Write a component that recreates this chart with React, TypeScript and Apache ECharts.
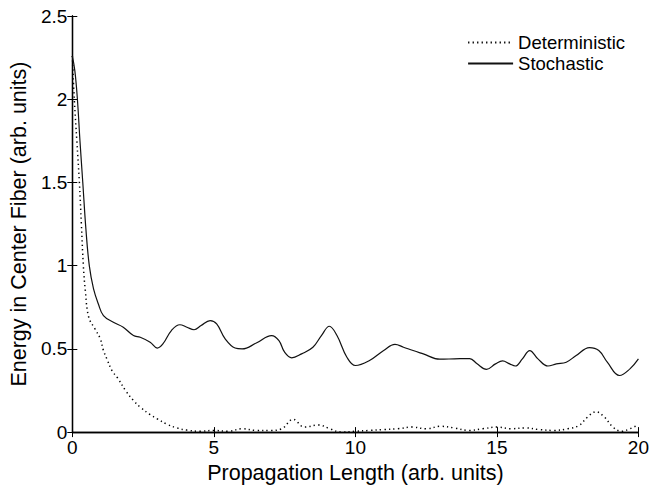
import React, { useEffect, useRef } from "react";
import * as echarts from "echarts";

const stochasticX = [0, 0.09, 0.18, 0.27, 0.37, 0.48, 0.6, 0.75, 0.92, 1.1, 1.45, 1.8, 2.16, 2.4, 2.75, 3.0, 3.2, 3.5, 3.8, 4.05, 4.3, 4.55, 4.87, 5.1, 5.4, 5.75, 6.0, 6.5, 7.04, 7.3, 7.5, 7.75, 8.1, 8.5, 8.8, 9.08, 9.35, 9.7, 10.0, 10.5, 11.0, 11.4, 11.7, 12.04, 12.4, 12.98, 13.5, 14.04, 14.3, 14.63, 14.95, 15.2, 15.45, 15.65, 15.9, 16.16, 16.45, 16.8, 17.1, 17.45, 17.8, 18.27, 18.6, 18.9, 19.33, 19.7, 20];
const stochasticY = [2.26, 2.17, 2.0, 1.75, 1.5, 1.22, 1.0, 0.86, 0.77, 0.7, 0.66, 0.63, 0.58, 0.57, 0.54, 0.505, 0.53, 0.61, 0.645, 0.63, 0.615, 0.64, 0.67, 0.65, 0.56, 0.505, 0.5, 0.535, 0.58, 0.55, 0.48, 0.446, 0.47, 0.51, 0.58, 0.636, 0.58, 0.45, 0.4, 0.43, 0.49, 0.527, 0.51, 0.49, 0.47, 0.438, 0.44, 0.442, 0.41, 0.377, 0.41, 0.428, 0.41, 0.397, 0.44, 0.49, 0.44, 0.397, 0.41, 0.42, 0.46, 0.508, 0.49, 0.42, 0.34, 0.38, 0.44];

const deterministicX = [0, 0.07, 0.16, 0.25, 0.32, 0.39, 0.46, 0.58, 0.8, 0.99, 1.1, 1.22, 1.4, 1.6, 1.9, 2.16, 2.4, 2.75, 3.0, 3.35, 3.7, 4.05, 4.5, 5.0, 5.5, 6.0, 6.5, 7.0, 7.4, 7.8, 8.2, 8.7, 9.1, 9.5, 10, 10.5, 11, 11.5, 12, 12.5, 13, 13.5, 14, 14.5, 15, 15.5, 16, 16.5, 17, 17.5, 17.9, 18.2, 18.5, 18.8, 19.1, 19.4, 19.7, 20];
const deterministicY = [2.26, 2.0, 1.75, 1.5, 1.25, 1.0, 0.85, 0.69, 0.62, 0.56, 0.49, 0.44, 0.37, 0.325, 0.245, 0.19, 0.15, 0.105, 0.08, 0.047, 0.025, 0.012, 0.005, 0.01, 0.005, 0.02, 0.01, 0.01, 0.02, 0.077, 0.03, 0.043, 0.02, 0.0, 0.005, 0.01, 0.015, 0.02, 0.03, 0.02, 0.035, 0.025, 0.01, 0.02, 0.03, 0.02, 0.025, 0.015, 0.01, 0.02, 0.04, 0.09, 0.122, 0.09, 0.03, 0.005, 0.02, 0.045];

const seriesNames = ["Deterministic", "Stochastic"];
const xTitle = "Propagation Length (arb. units)";
const yTitle = "Energy in Center Fiber (arb. units)";

const FONT = "Liberation Sans, Arial, Helvetica, sans-serif";

export default function App() {
  const ref = useRef<HTMLDivElement>(null);
  useEffect(() => {
    if (!ref.current) return;
    const chart = echarts.init(ref.current, undefined, { renderer: "svg" });
    const axisLine = { show: true, lineStyle: { color: "#000", width: 1.3 } };
    const tick = { show: true, inside: true, length: 5, lineStyle: { color: "#000", width: 1 } };
    chart.setOption({
      animation: false,
      backgroundColor: "#fff",
      textStyle: { fontFamily: FONT },
      grid: { left: 72, right: 13, top: 16, bottom: 51, containLabel: false },
      legend: {
        orient: "vertical",
        right: 22,
        top: 28,
        padding: 5,
        itemWidth: 45,
        itemHeight: 14,
        itemGap: 2,
        itemStyle: { opacity: 0 },
        textStyle: { fontSize: 18.5, color: "#000", fontFamily: FONT },
        data: seriesNames,
      },
      xAxis: [
        {
          type: "value",
          min: 0,
          max: 20,
          interval: 5,
          name: xTitle,
          nameLocation: "middle",
          nameGap: 27,
          nameTextStyle: { fontSize: 21.5, color: "#000", fontFamily: FONT },
          axisLine,
          axisTick: tick,
          axisLabel: { fontSize: 19, color: "#000", margin: 6, fontFamily: FONT },
          splitLine: { show: false },
        },
        {
          type: "value",
          position: "top",
          min: 0,
          max: 20,
          interval: 5,
          axisLine,
          axisTick: tick,
          axisLabel: { show: false },
          splitLine: { show: false },
        },
      ],
      yAxis: [
        {
          type: "value",
          min: 0,
          max: 2.5,
          interval: 0.5,
          name: yTitle,
          nameLocation: "middle",
          nameGap: 38,
          nameTextStyle: { fontSize: 21.5, color: "#000", fontFamily: FONT },
          axisLine,
          axisTick: tick,
          axisLabel: { fontSize: 19, color: "#000", margin: 5, fontFamily: FONT },
          splitLine: { show: false },
        },
        {
          type: "value",
          position: "right",
          min: 0,
          max: 2.5,
          interval: 0.5,
          axisLine,
          axisTick: tick,
          axisLabel: { show: false },
          splitLine: { show: false },
        },
      ],
      series: [
        {
          name: seriesNames[0],
          type: "line",
          data: deterministicX.map((x, i) => [x, deterministicY[i]]),
          showSymbol: false,
          symbol: "none",
          smooth: 0.4,
          itemStyle: { color: "#000" },
          lineStyle: { color: "#000", width: 1.5, type: [1.3, 3.2] },
        },
        {
          name: seriesNames[1],
          type: "line",
          data: stochasticX.map((x, i) => [x, stochasticY[i]]),
          showSymbol: false,
          symbol: "none",
          smooth: 0.4,
          itemStyle: { color: "#000" },
          lineStyle: { color: "#111", width: 1.2, type: "solid" },
        },
      ],
    });
    return () => chart.dispose();
  }, []);
  return <div ref={ref} style={{ width: 652, height: 489, position: "absolute", left: 0, top: 0 }} />;
}
